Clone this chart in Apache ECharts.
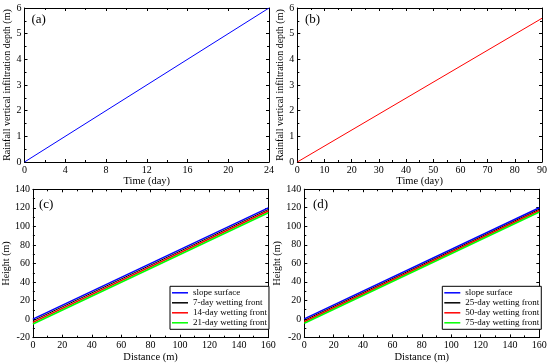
<!DOCTYPE html>
<html><head><meta charset="utf-8">
<script src="https://cdn.jsdelivr.net/npm/echarts@6/dist/echarts.min.js"></script>
<style>html,body{margin:0;padding:0;background:#fff}#c{width:550px;height:364px}</style>
</head><body><div id="c"></div>
<script>
// ---- data ----
const timeA = [0, 24];
const depthA = [0, 6];
const timeB = [0, 90];
const depthB = [0, 5.6];
const distance = [0, 160];
const namesC = ['slope surface', '7-day wetting front', '14-day wetting front', '21-day wetting front'];
const namesD = ['slope surface', '25-day wetting front', '50-day wetting front', '75-day wetting front'];
const heightsC = [[0, 120], [-1.75, 118.25], [-3.5, 116.5], [-5.25, 114.75]];
const heightsD = [[0, 120], [-1.6, 118.4], [-3.1, 116.9], [-4.7, 115.3]];
const lineColors = ['#0000ff', '#000000', '#ff0000', '#00ff00'];
const panelLabels = ['(a)', '(b)', '(c)', '(d)'];

const FONT = 'Liberation Serif';
const pair = (xs, ys) => xs.map((x, i) => [x, ys[i]]);

const grids = [
  {left: 24.5, top: 8, width: 244.5, height: 154},
  {left: 297.3, top: 8, width: 245.4, height: 154},
  {left: 31.7, top: 189.3, width: 236.6, height: 148.4},
  {left: 304.3, top: 189.2, width: 235, height: 148.2}
];
const xSpec = [
  {min: 0, max: 24, interval: 4, name: 'Time (day)', gap: 9},
  {min: 0, max: 90, interval: 10, name: 'Time (day)', gap: 9},
  {min: 0, max: 160, interval: 20, name: 'Distance (m)', gap: 12},
  {min: 0, max: 160, interval: 20, name: 'Distance (m)', gap: 12}
];
const ySpec = [
  {min: 0, max: 6, interval: 1, name: 'Rainfall vertical infiltration depth (m)', gap: 12},
  {min: 0, max: 6, interval: 1, name: 'Rainfall vertical infiltration depth (m)', gap: 12},
  {min: -20, max: 140, interval: 20, name: 'Height (m)', gap: 20},
  {min: -20, max: 140, interval: 20, name: 'Height (m)', gap: 20}
];

const axisCommon = {
  axisLine: {onZero: false, lineStyle: {color: '#000', width: 1}},
  axisTick: {inside: true, length: 3, lineStyle: {color: '#000'}},
  minorTick: {show: true, splitNumber: 2, length: 2, lineStyle: {color: '#000'}},
  splitLine: {show: false},
  axisLabel: {color: '#000', fontFamily: FONT, fontSize: 10, margin: 3}
};

const xAxis = [], yAxis = [];
grids.forEach((g, i) => {
  xAxis.push(Object.assign({}, axisCommon, {
    type: 'value', gridIndex: i, position: 'bottom',
    min: xSpec[i].min, max: xSpec[i].max, interval: xSpec[i].interval,
    name: xSpec[i].name, nameLocation: 'middle', nameGap: xSpec[i].gap,
    nameTextStyle: {color: '#000', fontFamily: FONT, fontSize: 10.5}
  }));
  xAxis.push(Object.assign({}, axisCommon, {
    type: 'value', gridIndex: i, position: 'top',
    min: xSpec[i].min, max: xSpec[i].max, interval: xSpec[i].interval,
    axisLabel: {show: false}
  }));
  yAxis.push(Object.assign({}, axisCommon, {
    type: 'value', gridIndex: i, position: 'left',
    min: ySpec[i].min, max: ySpec[i].max, interval: ySpec[i].interval,
    name: ySpec[i].name, nameLocation: 'middle', nameGap: ySpec[i].gap,
    nameTextStyle: {color: '#000', fontFamily: FONT, fontSize: 10}
  }));
  yAxis.push(Object.assign({}, axisCommon, {
    type: 'value', gridIndex: i, position: 'right',
    min: ySpec[i].min, max: ySpec[i].max, interval: ySpec[i].interval,
    axisLabel: {show: false}
  }));
});

const series = [
  {type: 'line', xAxisIndex: 0, yAxisIndex: 0, data: pair(timeA, depthA), symbol: 'none',
   lineStyle: {color: '#0000ff', width: 1}, silent: true},
  {type: 'line', xAxisIndex: 2, yAxisIndex: 2, data: pair(timeB, depthB), symbol: 'none',
   lineStyle: {color: '#ff0000', width: 1}, silent: true}
];
[[namesC, heightsC, 4], [namesD, heightsD, 6]].forEach(([names, hs, ax]) => {
  names.forEach((n, k) => {
    series.push({type: 'line', name: n, xAxisIndex: ax, yAxisIndex: ax,
      data: pair(distance, hs[k]), symbol: 'none', z: 2 + k,
      itemStyle: {color: lineColors[k]},
      lineStyle: {color: lineColors[k], width: k === 1 ? 1 : 1.6}, silent: true});
  });
});

const legendCommon = {
  orient: 'vertical', icon: 'rect', itemWidth: 16, itemHeight: 1.5, itemGap: 1,
  padding: [2, 2, 2, 2], borderColor: '#000', borderWidth: 1, backgroundColor: '#fff',
  selectedMode: false,
  textStyle: {color: '#000', fontFamily: FONT, fontSize: 9, lineHeight: 9}
};

const chart = echarts.init(document.getElementById('c'), null, {renderer: 'canvas'});
chart.setOption({
  animation: false,
  backgroundColor: '#fff',
  grid: grids,
  xAxis, yAxis, series,
  legend: [
    Object.assign({}, legendCommon, {left: 170, top: 286.3, data: namesC}),
    Object.assign({}, legendCommon, {left: 442.3, top: 286.3, data: namesD})
  ],
  graphic: [
    {type: 'text', left: 31.5, top: 13.5, style: {text: panelLabels[0], font: '13px "' + FONT + '"', fill: '#000'}},
    {type: 'text', left: 305, top: 13.5, style: {text: panelLabels[1], font: '13px "' + FONT + '"', fill: '#000'}},
    {type: 'text', left: 39, top: 198, style: {text: panelLabels[2], font: '13px "' + FONT + '"', fill: '#000'}},
    {type: 'text', left: 313, top: 198, style: {text: panelLabels[3], font: '13px "' + FONT + '"', fill: '#000'}}
  ]
});
</script></body></html>
